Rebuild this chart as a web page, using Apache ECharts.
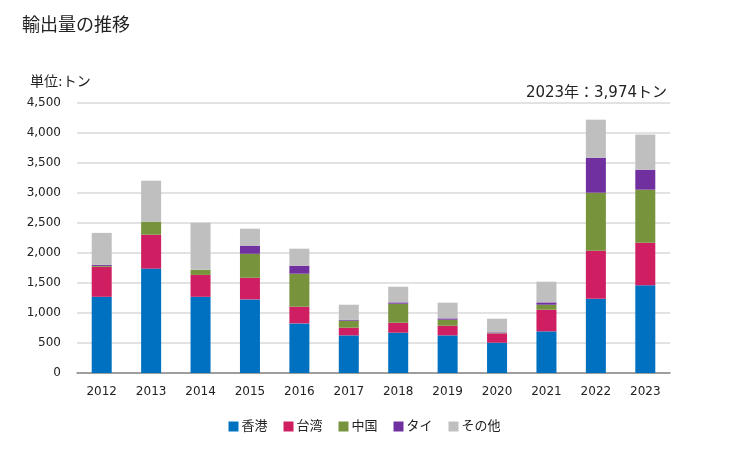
<!DOCTYPE html>
<html><head><meta charset="utf-8">
<script src="https://cdn.jsdelivr.net/npm/echarts@6/dist/echarts.min.js"></script>
<style>html,body{margin:0;padding:0;background:#fff}#c{width:729px;height:450px}</style>
</head><body><div id="c"></div>
<script>
var years = ['2012','2013','2014','2015','2016','2017','2018','2019','2020','2021','2022','2023'];
var hongkong = [1270,1740,1270,1227,827,627,672,627,505,694,1238,1461];
var taiwan   = [500,565,365,360,278,128,166,161,155,361,800,711];
var china    = [15,217,85,400,550,117,317,100,5,83,967,883];
var thailand = [17,0,0,135,133,16,22,22,12,39,583,333];
var others   = [533,683,785,283,284,250,261,262,228,345,634,586];
var seriesNames = ['香港','台湾','中国','タイ','その他'];
var colors = ['#0070c0','#cf1f62','#77933c','#7030a0','#bfbfbf'];
var font = '"DejaVu Sans", "Noto Sans CJK JP", sans-serif';
var datasets = [hongkong, taiwan, china, thailand, others];
var chart = echarts.init(document.getElementById('c'), null, {renderer:'canvas'});
chart.setOption({
  animation:false,
  textStyle:{fontFamily:font},
  title:[
    {text:'輸出量の推移', left:17, top:12, textStyle:{fontSize:18, fontWeight:'normal', color:'#222', fontFamily:font}},
    {text:'単位:トン', left:25, top:70, textStyle:{fontSize:14, fontWeight:'normal', color:'#222', fontFamily:font}},
    {text:'2023年：3,974トン', right:57, top:81, textStyle:{fontSize:15, fontWeight:'normal', color:'#222', fontFamily:font}}
  ],
  legend:{bottom:12, left:'center', itemWidth:10, itemHeight:10, itemGap:16, icon:'rect',
    textStyle:{fontSize:13, color:'#222', fontFamily:font, padding:[0,0,0,-2]}, data:seriesNames},
  grid:{left:77, right:59, top:103, bottom:77, containLabel:false},
  xAxis:{type:'category', data:years,
    axisLine:{lineStyle:{color:'#888', width:1.5}}, axisTick:{show:false},
    axisLabel:{fontSize:12, color:'#222', margin:13, fontFamily:font}},
  yAxis:{type:'value', min:0, max:4500, interval:500,
    axisLine:{show:false}, axisTick:{show:false},
    splitLine:{lineStyle:{color:'#d9d9d9', width:1.5}},
    axisLabel:{fontSize:12, color:'#222', margin:16, fontFamily:font,
      formatter:function(v){return v.toLocaleString('en-US');}}},
  series: seriesNames.map(function(n,i){
    return {name:n, type:'bar', stack:'t', barWidth:20, data:datasets[i], itemStyle:{color:colors[i]}};
  })
});
</script></body></html>
